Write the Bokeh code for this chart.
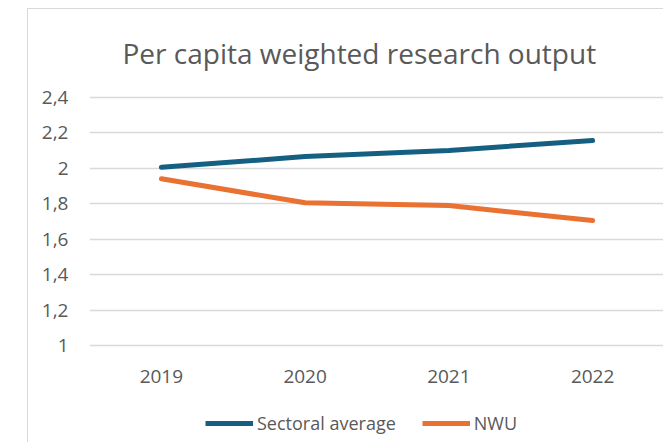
from bokeh.plotting import figure
from bokeh.models import Legend, LegendItem, FactorRange, Range1d, FixedTicker
from bokeh.layouts import column
from bokeh.embed import file_html
from bokeh.resources import INLINE

years = ["2019", "2020", "2021", "2022"]
sectoral = [2.005, 2.065, 2.10, 2.155]
nwu = [1.94, 1.805, 1.79, 1.705]
y_ticks = [1.0, 1.2, 1.4, 1.6, 1.8, 2.0, 2.2, 2.4]
y_tick_labels = ["1", "1,2", "1,4", "1,6", "1,8", "2", "2,2", "2,4"]
series_names = ["Sectoral average", "NWU"]
title_text = "Per capita weighted research output"

FONT = "Open Sans"
TXT = "#595959"
BLUE = "#156082"
ORANGE = "#E97132"

p = figure(width=636, height=394, x_range=FactorRange(*years, range_padding=0),
           y_range=Range1d(0.98, 2.42), output_backend="svg", toolbar_location=None,
           min_border_left=61, min_border_right=0, min_border_top=83, min_border_bottom=54,
           title=title_text)
p.styles = {"border-left": "1px solid #d9d9d9", "border-top": "1px solid #d9d9d9"}
p.outline_line_color = None
p.background_fill_color = "white"

p.title.align = "left"
p.title.offset = 33
p.title.text_font = FONT
p.title.text_font_size = "28px"
p.title.text_font_style = "normal"
p.title.text_color = TXT
p.title.standoff = 44

p.xgrid.grid_line_color = None
p.ygrid.grid_line_color = "#d9d9d9"
p.ygrid.grid_line_width = 1.3
p.yaxis.ticker = FixedTicker(ticks=y_ticks)
p.yaxis.major_label_overrides = {t: l for t, l in zip(y_ticks, y_tick_labels)}

for ax in (p.xaxis, p.yaxis):
    ax.axis_line_color = None
    ax.major_tick_line_color = None
    ax.minor_tick_line_color = None
    ax.major_label_text_color = TXT
    ax.major_label_text_font = FONT
p.yaxis.major_label_text_font_size = "19px"
p.xaxis.major_label_text_font_size = "19px"
p.yaxis.major_label_standoff = 15
p.xaxis.major_label_standoff = 14

p.line(years, sectoral, line_color=BLUE, line_width=5, line_cap="round")
p.line(years, nwu, line_color=ORANGE, line_width=5, line_cap="round")

# legend strip below the chart (legend-only renderers hold no visible data)
nan = float("nan")
lg = figure(width=636, height=40, x_range=Range1d(0, 1), y_range=Range1d(0, 1),
            output_backend="svg", toolbar_location=None, x_axis_type=None, y_axis_type=None,
            min_border=0)
lg.styles = {"border-left": "1px solid #d9d9d9"}
lg.outline_line_color = None
lg.xgrid.visible = False
lg.ygrid.visible = False
l1 = lg.line(x=[nan, nan], y=[nan, nan], line_color=BLUE, line_width=5)
l2 = lg.line(x=[nan, nan], y=[nan, nan], line_color=ORANGE, line_width=5)

legend = Legend(items=[LegendItem(label=series_names[0], renderers=[l1]),
                       LegendItem(label=series_names[1], renderers=[l2])],
                orientation="horizontal", location=(116, 7),
                label_text_font=FONT, label_text_font_size="18px", label_text_color=TXT,
                glyph_width=48, glyph_height=20, label_standoff=4, spacing=26,
                border_line_color=None, background_fill_alpha=0, padding=4, margin=0)
lg.add_layout(legend, "center")

layout = column(p, lg, spacing=0, margin=(8, 0, 0, 27))

open("out.html", "w").write(file_html(layout, INLINE))
